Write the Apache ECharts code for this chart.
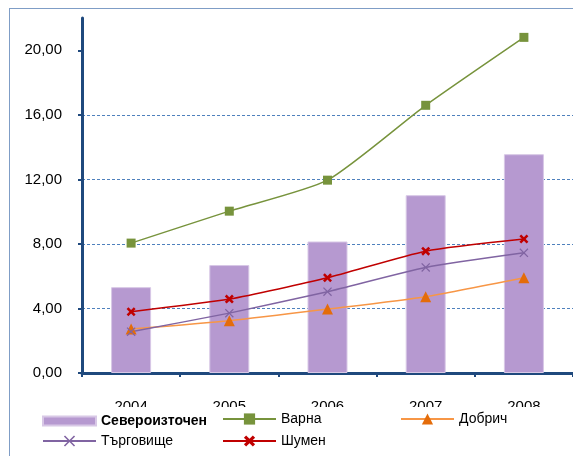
<!DOCTYPE html>
<html><head><meta charset="utf-8">
<script src="https://cdn.jsdelivr.net/npm/echarts@6/dist/echarts.min.js"></script>
<style>html,body{margin:0;padding:0;background:#fff}#c{width:573px;height:456px}</style>
</head><body><div id="c"></div>
<script>
const years = ['2004','2005','2006','2007','2008'];
const severoiztochen = [5.32, 6.69, 8.15, 11.02, 13.56];
const varna = [8.05, 10.03, 11.95, 16.59, 20.8];
const dobrich = [2.72, 3.24, 3.96, 4.73, 5.9];
const targovishte = [2.56, 3.71, 5.04, 6.54, 7.45];
const shumen = [3.8, 4.58, 5.9, 7.55, 8.3];
const yTicks = [0, 4, 8, 12, 16, 20];

const FONT = 'Liberation Sans';
const xThin = 'path://M1,0 L5,4 L9,0 L10,1 L6,5 L10,9 L9,10 L5,6 L1,10 L0,9 L4,5 L0,1 Z';
const xBold = 'path://M2,0 L5,3 L8,0 L10,2 L7,5 L10,8 L8,10 L5,7 L2,10 L0,8 L3,5 L0,2 Z';

function lineSeries(name, data, lineColor, markColor, symbol, size) {
  return {
    name, type: 'line', data, smooth: 0.2,
    symbol, symbolSize: size,
    lineStyle: { color: lineColor, width: 1.5 },
    itemStyle: { color: markColor, borderColor: markColor, borderWidth: 0 },
    z: 3
  };
}
function leg(name, left, top, extra) {
  return Object.assign({
    left, top, padding: 0, itemGap: 0, itemWidth: 53, itemHeight: 14,
    textStyle: { fontFamily: FONT, fontSize: 14, color: '#000' },
    data: [name], selectedMode: false
  }, extra || {});
}

const chart = echarts.init(document.getElementById('c'));
chart.setOption({
  animation: false,
  textStyle: { fontFamily: FONT },
  grid: { left: 82, top: 18, width: 495, height: 355, containLabel: false },
  xAxis: {
    type: 'category', data: years,
    axisLine: { lineStyle: { color: '#1F497D', width: 3 } },
    axisTick: { show: true, length: 4, lineStyle: { color: '#1F497D', width: 2 } },
    axisLabel: { color: '#000', fontSize: 15, margin: 26, fontFamily: FONT },
    splitLine: { show: false }
  },
  yAxis: {
    type: 'value', min: 0, max: 22, interval: 4,
    axisLine: { show: true, lineStyle: { color: '#1F497D', width: 3 } },
    axisTick: { show: true, length: 4, lineStyle: { color: '#1F497D', width: 2 }, customValues: yTicks },
    axisLabel: { color: '#000', fontSize: 15, margin: 20, fontFamily: FONT, customValues: yTicks,
      formatter: v => v.toFixed(2).replace('.', ',') },
    splitLine: { show: true, showMaxLine: false, showMinLine: false,
      lineStyle: { color: '#4F81BD', width: 1, type: [3, 2] } }
  },
  legend: [
    leg('Североизточен', 42, 414, { itemHeight: 9, icon: 'rect',
      data: [{ name: 'Североизточен', textStyle: { fontWeight: 'bold' } }] }),
    leg('Варна', 222, 412),
    leg('Добрич', 400, 412),
    leg('Търговище', 42, 434),
    leg('Шумен', 222, 434)
  ],
  graphic: [
    { type: 'rect', shape: { x: 20, y: 407, width: 553, height: 49 }, style: { fill: '#fff' }, z: 3 },
    { type: 'line', shape: { x1: 9.5, y1: 8, x2: 9.5, y2: 456 }, style: { stroke: '#7F9DC6', lineWidth: 1 }, z: 5 },
    { type: 'line', shape: { x1: 9, y1: 8.5, x2: 573, y2: 8.5 }, style: { stroke: '#7F9DC6', lineWidth: 1 }, z: 5 }
  ],
  series: [
    { name: 'Североизточен', type: 'bar', data: severoiztochen, barWidth: 40,
      itemStyle: { color: '#B699D0', borderColor: '#D8C8E6', borderWidth: 1 }, z: 2 },
    lineSeries('Варна', varna, '#77933C', '#77933C', 'rect', 9),
    lineSeries('Добрич', dobrich, '#F79646', '#E46C0A', 'triangle', 11),
    lineSeries('Търговище', targovishte, '#8064A2', '#8064A2', xThin, 9),
    lineSeries('Шумен', shumen, '#C00000', '#C00000', xBold, 9)
  ]
});
</script></body></html>
